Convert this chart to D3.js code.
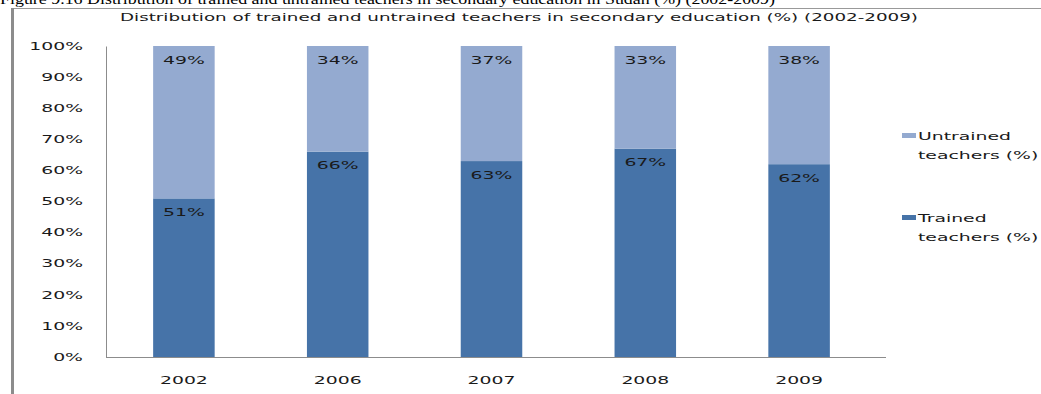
<!DOCTYPE html>
<html>
<head>
<meta charset="utf-8">
<script src="https://cdn.jsdelivr.net/npm/d3@7"></script>
<style>
  html, body { margin: 0; padding: 0; background: #fff; }
  svg { display: block; }
  text { font-family: "DejaVu Sans", sans-serif; fill: #1a1a1a; }
</style>
</head>
<body>
<svg id="chart" width="1041" height="394"></svg>
<script>
// Share of trained / untrained secondary teachers, by year
const years = ["2002", "2006", "2007", "2008", "2009"];
const trained = [51, 66, 63, 67, 62];
const untrained = [49, 34, 37, 33, 38];
const yTicks = [0, 10, 20, 30, 40, 50, 60, 70, 80, 90, 100];
const seriesNames = ["Untrained teachers (%)", "Trained teachers (%)"];

const caption = "Figure 9.16  Distribution of trained and untrained teachers in secondary education in Sudan (%) (2002-2009)";
const title = "Distribution of trained and untrained teachers in secondary education (%) (2002-2009)";

const colTrained = "#4673a8";
const colUntrained = "#94aad0";

const svg = d3.select("#chart");
const STRETCH = 1.88;

// widen a text element horizontally by a factor
function stretch(sel, k = STRETCH) {
  sel.each(function () {
    const w = this.getComputedTextLength();
    d3.select(this).attr("textLength", w * k).attr("lengthAdjust", "spacingAndGlyphs");
  });
}

// document caption above the chart frame
svg.append("text")
  .attr("x", 0).attr("y", 4)
  .style("font-family", "'Liberation Serif', 'Times New Roman', serif")
  .style("font-size", "15px")
  .style("fill", "#000")
  .attr("textLength", 775).attr("lengthAdjust", "spacingAndGlyphs")
  .text(caption);

// frame
svg.append("line").attr("x1", 11).attr("x2", 1041).attr("y1", 8.5).attr("y2", 8.5)
  .attr("stroke", "#999").attr("stroke-width", 1);
svg.append("rect").attr("x", 11).attr("y", 8).attr("width", 3).attr("height", 386)
  .attr("fill", "#8c8c8c");

// chart title
svg.append("text")
  .attr("x", 519).attr("y", 21)
  .attr("text-anchor", "middle")
  .style("font-size", "10px")
  .attr("textLength", 798).attr("lengthAdjust", "spacingAndGlyphs")
  .text(title);

const x = d3.scaleBand().domain(years).range([107, 876]).paddingInner(0.6).paddingOuter(0.3);
const y = d3.scaleLinear().domain([0, 100]).range([357, 46]);

// stacked bars
const rows = years.map((yr, i) => ({ year: yr, trained: trained[i], untrained: untrained[i] }));
const stack = d3.stack().keys(["trained", "untrained"])(rows);
const colors = { trained: colTrained, untrained: colUntrained };

const layers = svg.selectAll("g.layer").data(stack).join("g")
  .attr("class", "layer").attr("fill", d => colors[d.key]);

layers.selectAll("rect").data(d => d).join("rect")
  .attr("x", d => x(d.data.year))
  .attr("width", x.bandwidth())
  .attr("y", d => y(d[1]))
  .attr("height", d => y(d[0]) - y(d[1]));

// value labels near the top of each segment
layers.selectAll("text").data(d => d.map(v => ({ v, key: d.key }))).join("text")
  .attr("x", d => x(d.v.data.year) + x.bandwidth() / 2)
  .attr("y", d => y(d.v[1]) + 14)
  .attr("dy", "0.35em")
  .attr("text-anchor", "middle")
  .style("font-size", "10px")
  .text(d => d.v.data[d.key] + "%")
  .call(stretch);

// axes
const yAxis = d3.axisLeft(y).tickValues(yTicks).tickFormat(d => d + "%").tickSize(0).tickPadding(23);
const gy = svg.append("g").attr("transform", "translate(106,0)").call(yAxis);
gy.select(".domain").attr("stroke", "#8c8c8c");
gy.selectAll("text").style("font-size", "10px").attr("fill", "#1a1a1a").call(stretch);

const xAxis = d3.axisBottom(x).tickSize(0).tickPadding(20);
const gx = svg.append("g").attr("transform", "translate(0,357)").call(xAxis);
gx.select(".domain").attr("d", "M106,0.5H886").attr("stroke", "#8c8c8c");
gx.selectAll("text").style("font-size", "10px").attr("fill", "#1a1a1a").call(stretch);

// legend
const legendTop = [133, 215];
const legend = svg.selectAll("g.legend").data(seriesNames).join("g")
  .attr("class", "legend")
  .attr("transform", (d, i) => `translate(902,${legendTop[i]})`);
legend.append("rect").attr("width", 14).attr("height", 5)
  .attr("fill", (d, i) => i === 0 ? colUntrained : colTrained);
legend.each(function (name) {
  const parts = name.split(" ");
  const g = d3.select(this);
  [parts[0], parts.slice(1).join(" ")].forEach((line, j) => {
    g.append("text").attr("x", 16).attr("y", 3 + j * 19).attr("dy", "0.35em")
      .style("font-size", "10px").text(line).call(stretch);
  });
});
</script>
</body>
</html>
